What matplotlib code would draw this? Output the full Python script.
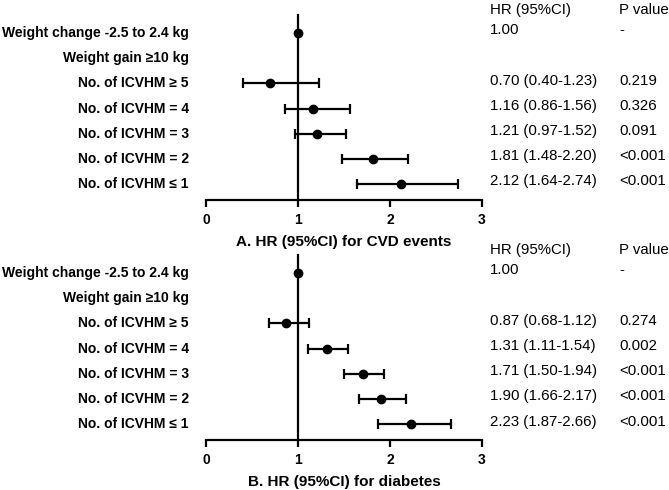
import matplotlib
matplotlib.use("Agg")
import matplotlib.pyplot as plt
from matplotlib.transforms import blended_transform_factory

plt.rcParams['font.family'] = ['Liberation Sans', 'DejaVu Sans']

labels = ["Weight change -2.5 to 2.4 kg", "Weight gain \u226510 kg",
          "No. of ICVHM \u2265 5", "No. of ICVHM = 4", "No. of ICVHM = 3",
          "No. of ICVHM = 2", "No. of ICVHM \u2264 1"]

cvd_hr = [1.00, None, 0.70, 1.16, 1.21, 1.81, 2.12]
cvd_lo = [None, None, 0.40, 0.86, 0.97, 1.48, 1.64]
cvd_hi = [None, None, 1.23, 1.56, 1.52, 2.20, 2.74]
cvd_txt = ["1.00", "", "0.70 (0.40-1.23)", "1.16 (0.86-1.56)", "1.21 (0.97-1.52)",
           "1.81 (1.48-2.20)", "2.12 (1.64-2.74)"]
cvd_p = ["-", "", "0.219", "0.326", "0.091", "<0.001", "<0.001"]

dm_hr = [1.00, None, 0.87, 1.31, 1.71, 1.90, 2.23]
dm_lo = [None, None, 0.68, 1.11, 1.50, 1.66, 1.87]
dm_hi = [None, None, 1.12, 1.54, 1.94, 2.17, 2.66]
dm_txt = ["1.00", "", "0.87 (0.68-1.12)", "1.31 (1.11-1.54)", "1.71 (1.50-1.94)",
          "1.90 (1.66-2.17)", "2.23 (1.87-2.66)"]
dm_p = ["-", "", "0.274", "0.002", "<0.001", "<0.001", "<0.001"]

xticks = [0, 1, 2, 3]
titles = ["A. HR (95%CI) for CVD events", "B. HR (95%CI) for diabetes"]

W, H = 669, 490
fig = plt.figure(figsize=(W / 100, H / 100), dpi=100)

def make_panel(top_px, hr, lo, hi, txt, pv, title):
    left = 206 / W
    width = (482 - 206) / W
    bottom = 1 - (top_px + 185) / H
    height = 185 / H
    ax = fig.add_axes([left, bottom, width, height])
    ax.set_xlim(0, 3)
    ax.set_ylim(6.635, -0.715)
    for s in ['top', 'right']:
        ax.spines[s].set_visible(False)
    ax.spines['left'].set_position(('data', 1))
    ax.spines['left'].set_linewidth(1.6)
    ax.spines['bottom'].set_linewidth(1.6)
    ax.set_yticks([])
    ax.set_xticks(xticks)
    ax.set_xticklabels([str(t) for t in xticks], fontweight='bold', fontsize=10)
    ax.tick_params(axis='x', length=5, width=1.6, pad=4)
    ax.set_xlabel(title, fontweight='bold', fontsize=11, labelpad=6)

    for i in range(len(labels)):
        if hr[i] is None:
            continue
        if lo[i] is not None:
            ax.errorbar([hr[i]], [i], xerr=[[hr[i] - lo[i]], [hi[i] - hr[i]]],
                        fmt='o', color='black', ms=6, elinewidth=1.6,
                        capsize=3.5, capthick=1.6, clip_on=False, zorder=3)
        else:
            ax.plot([hr[i]], [i], 'o', color='black', ms=6, clip_on=False, zorder=3)

    tr_lab = blended_transform_factory(fig.transFigure, ax.transData)
    for i, lab in enumerate(labels):
        ax.text(189 / W, i, lab, transform=tr_lab, ha='right', va='center',
                fontweight='bold', fontsize=10, clip_on=False)
    ax.text(490 / W, -0.9, "HR (95%CI)", transform=tr_lab, ha='left',
            va='center', fontsize=10.8, clip_on=False)
    ax.text(619 / W, -0.9, "P value", transform=tr_lab, ha='left',
            va='center', fontsize=10.8, clip_on=False)
    for i in range(len(labels)):
        ax.text(490 / W, i - 0.1, txt[i], transform=tr_lab, ha='left',
                va='center', fontsize=10.8, clip_on=False)
        ax.text(619 / W, i - 0.1, pv[i], transform=tr_lab, ha='left',
                va='center', fontsize=10.8, clip_on=False)
    return ax

make_panel(15, cvd_hr, cvd_lo, cvd_hi, cvd_txt, cvd_p, titles[0])
make_panel(255, dm_hr, dm_lo, dm_hi, dm_txt, dm_p, titles[1])

fig.savefig("out.png", dpi=100)
